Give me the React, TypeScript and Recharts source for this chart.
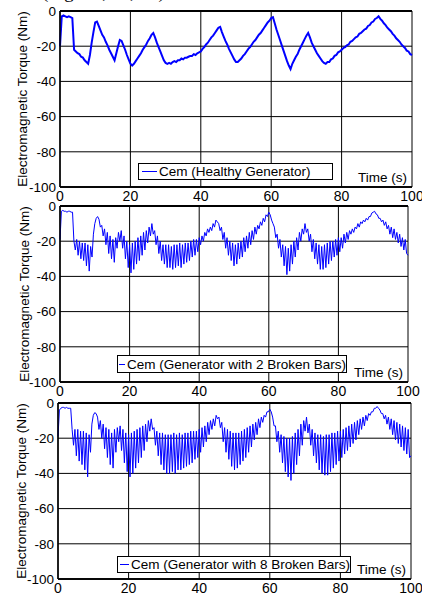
import {
  CartesianGrid,
  Legend,
  Line,
  LineChart,
  ReferenceLine,
  XAxis,
  YAxis,
} from "recharts";

const FONT = "'Liberation Sans', Arial, Helvetica, sans-serif";
const BLUE = "#0000ff";

const xTicks = [0, 20, 40, 60, 80, 100];
const yTicks = [-100, -80, -60, -40, -20, 0];

// healthy machine, sampled every 0.5 s (one row = 5 s)
const healthyStep = 0.5;
const healthyTorque = [
  -20, -3, -2.5, -3, -3.5, -3, -3.5, -4, -22, -23,
  -24, -24.5, -26, -26.5, -28, -29, -30, -25, -18, -12,
  -6.5, -6, -8.5, -11, -13.5, -15, -17.5, -19.5, -22, -24,
  -26, -28, -24, -20, -16.5, -17, -19.5, -22, -25, -27.5,
  -30, -31, -30, -28.5, -27, -25.5, -24, -22, -20.5, -19,
  -17, -15.5, -13.5, -12.5, -15, -18, -20.5, -23, -25.5, -28,
  -29.5, -30, -29.5, -30, -29, -28.5, -29, -28, -28, -27,
  -27.5, -26.5, -26.5, -26, -25.5, -25.5, -24.5, -25, -24, -23.5,
  -23, -21.5, -20.5, -19, -18, -16.5, -15, -14, -12.5, -11,
  -9.5, -9, -12, -14.5, -17, -19, -21.5, -23.5, -25.5, -27.5,
  -29, -29, -28, -27, -25.5, -24.5, -23, -21.5, -20.5, -19,
  -17.5, -16.5, -15, -13.5, -12.5, -11, -9.5, -8, -6.5, -5.5,
  -4, -3.5, -7, -10.5, -13.5, -16.5, -19.5, -22.5, -25.5, -28.5,
  -31, -33, -30, -28, -26, -24.5, -22, -20, -18, -16,
  -14, -12.5, -15, -18, -20, -22, -24, -25.5, -27, -28.5,
  -29.5, -30, -29, -29, -27.5, -27, -25.5, -25, -23.5, -23,
  -22, -21, -20.5, -19.5, -19, -17.5, -17, -16, -15, -14.5,
  -13, -12.5, -11.5, -10.5, -10, -8.5, -8, -6.5, -6, -4.5,
  -4, -3, -4.5, -5.5, -7, -8, -9.5, -10.5, -11.5, -13,
  -14, -15.5, -16.5, -17.5, -19, -20, -21, -22.5, -23, -24.5,
  -25,
];

// faulty machines, sampled every 0.4 s (one row = 4 s)
const faultStep = 0.4;
const twoBarsTorque = [
  -19, -3, -2.5, -3, -3, -3.5, -3, -3, -3.5, -3.5,
  -20, -25, -19, -28, -20, -30, -21, -31, -21, -34,
  -22, -37, -23, -29, -16, -10, -7, -6, -7.5, -12,
  -11, -17, -13, -22, -15, -27, -17, -30, -19, -32,
  -18, -24, -15, -20, -14, -24, -17, -30, -20, -35,
  -22, -38, -21, -36, -20, -33, -18, -31, -17, -28,
  -15, -25, -14, -21, -12, -17, -10, -16, -14, -22,
  -17, -27, -20, -31, -22, -33, -22, -35, -22, -35,
  -23, -36, -22, -35, -22, -34, -21, -35, -22, -33,
  -21, -32, -21, -31, -20, -29, -19, -28, -19, -26,
  -18, -22, -17, -20, -15, -17, -13, -15, -12, -14,
  -10, -12, -8, -9, -10, -14, -12, -19, -15, -24,
  -18, -28, -20, -31, -21, -34, -22, -33, -21, -30,
  -20, -29, -18, -26, -17, -24, -15, -22, -14, -19,
  -12, -16, -11, -13, -9, -11, -7, -9, -5, -6,
  -3.5, -5, -8, -10, -12, -18, -16, -24, -19, -29,
  -22, -34, -23, -39, -24, -37, -22, -33, -20, -29,
  -18, -25, -15, -20, -13, -16, -10, -15, -13, -20,
  -16, -26, -19, -30, -21, -33, -22, -36, -23, -36,
  -22, -35, -21, -33, -20, -31, -20, -29, -19, -28,
  -18, -26, -18, -24, -16, -21, -15, -19, -14, -16,
  -13, -15, -12, -13, -10, -12, -9, -10, -8, -9,
  -7, -8, -6, -6, -4, -3.5, -3, -4.5, -5, -7,
  -7, -9, -8, -11, -9, -13, -11, -16, -12, -18,
  -13, -19, -15, -21, -16, -23, -18, -25, -19, -27,
  -28,
];

const eightBarsTorque = [
  -19, -4, -3, -2.5, -2.5, -3, -2.5, -3, -3, -3,
  -15, -24, -15, -30, -15, -33, -16, -35, -16, -38,
  -17, -42, -18, -28, -12, -7, -5.5, -6, -8, -15,
  -10, -20, -12, -26, -14, -31, -15, -35, -17, -37,
  -15, -28, -14, -22, -13, -27, -15, -34, -17, -39,
  -18, -42, -17, -40, -16, -37, -15, -34, -14, -31,
  -13, -27, -12, -22, -10, -16, -9, -15, -14, -24,
  -16, -30, -17, -35, -17, -38, -18, -40, -18, -40,
  -18, -39, -17, -40, -18, -38, -17, -38, -18, -37,
  -17, -36, -17, -35, -16, -34, -16, -32, -16, -31,
  -15, -28, -14, -25, -13, -22, -11, -18, -10, -15,
  -9, -13, -7, -9, -8, -14, -11, -22, -14, -28,
  -15, -32, -16, -36, -17, -38, -17, -37, -17, -35,
  -16, -33, -15, -31, -14, -28, -13, -25, -12, -21,
  -11, -18, -9, -14, -8, -11, -7, -8, -5, -5,
  -3.5, -5, -8, -13, -13, -22, -16, -28, -18, -34,
  -19, -39, -20, -42, -20, -44, -19, -40, -17, -35,
  -15, -30, -12, -24, -10, -16, -8, -17, -12, -24,
  -15, -30, -17, -34, -18, -38, -18, -40, -19, -41,
  -18, -41, -18, -39, -17, -37, -17, -35, -16, -33,
  -16, -31, -15, -29, -14, -27, -13, -25, -12, -23,
  -11, -21, -10, -18, -9, -15, -8, -13, -7, -10,
  -6, -7, -5, -5, -3, -3, -2, -3, -4, -6,
  -6, -9, -7, -12, -8, -15, -9, -18, -10, -21,
  -11, -23, -12, -25, -13, -27, -14, -29, -15, -31,
  -30,
];

const seriesNames = [
  "Cem (Healthy Generator)",
  "Cem (Generator with 2 Broken Bars)",
  "Cem (Generator with 8 Broken Bars)",
];

function toRows(values: number[], step: number) {
  return values.map((v, i) => ({ t: Math.round(i * step * 100) / 100, v }));
}

type PanelProps = {
  data: { t: number; v: number }[];
  name: string;
  top: number;
  height: number;
  yAxisWidth: number;
  right: number;
  xAxisHeight: number;
  labelX: number;
  legend: { left: number; top: number; width: number; height: number; pad: number };
  strokeWidth: number;
};

function Panel({ data, name, top, height, yAxisWidth, right, xAxisHeight, labelX, legend, strokeWidth }: PanelProps) {
  return (
    <div style={{ position: "absolute", left: 0, top }}>
      <LineChart
        width={422}
        height={height}
        data={data}
        margin={{ top: 11, right, bottom: 0, left: 0 }}
      >
        <CartesianGrid stroke="#000" strokeWidth={1} />
        <XAxis
          dataKey="t"
          type="number"
          domain={[0, 100]}
          ticks={xTicks}
          interval={0}
          height={xAxisHeight}
          tickSize={0}
          tickMargin={4}
          axisLine={{ stroke: "#000", strokeWidth: 1.5 }}
          tick={{ fill: "#000", fontSize: 14, fontFamily: FONT }}
        />
        <YAxis
          type="number"
          domain={[-100, 0]}
          ticks={yTicks}
          interval={0}
          width={yAxisWidth}
          tickSize={0}
          tickMargin={4}
          axisLine={{ stroke: "#000", strokeWidth: 1.5 }}
          tick={{ fill: "#000", fontSize: 13.5, fontFamily: FONT }}
          label={{
            value: "Electromagnetic Torque (Nm)",
            angle: -90,
            position: "insideLeft",
            offset: labelX,
            style: { textAnchor: "middle", fill: "#000", fontSize: 13.5, fontFamily: FONT },
          }}
        />
        <ReferenceLine y={0} stroke="#000" strokeWidth={2} />
        <ReferenceLine
          y={-100}
          stroke="#000"
          strokeWidth={1.5}
          label={{
            value: "Time (s)",
            position: "insideBottomRight",
            offset: 5,
            style: { fill: "#000", fontSize: 13.5, fontFamily: FONT },
          }}
        />
        <Legend
          layout="horizontal"
          verticalAlign="middle"
          align="center"
          wrapperStyle={{ left: legend.left, top: legend.top, width: "auto", height: "auto" }}
          content={(p: any) => {
            const item = p.payload?.[0];
            if (!item) return null;
            return (
              <div
                style={{
                  boxSizing: "border-box",
                  width: legend.width,
                  height: legend.height,
                  border: "1.5px solid #000",
                  background: "#fff",
                  display: "flex",
                  alignItems: "center",
                  paddingLeft: legend.pad,
                  fontFamily: FONT,
                  fontSize: 13.5,
                  color: "#000",
                  whiteSpace: "nowrap",
                }}
              >
                <span
                  style={{
                    display: "inline-block",
                    width: 15,
                    borderTop: `1.5px solid ${BLUE}`,
                    marginRight: 2,
                  }}
                />
                {item.value}
              </div>
            );
          }}
        />
        <Line
          type="linear"
          dataKey="v"
          name={name}
          stroke={BLUE}
          strokeWidth={strokeWidth}
          dot={false}
          activeDot={false}
          isAnimationActive={false}
        />
      </LineChart>
    </div>
  );
}

export default function App() {
  return (
    <div
      style={{
        position: "absolute",
        left: 0,
        top: 0,
        width: 422,
        height: 596,
        background: "#fff",
        overflow: "hidden",
      }}
    >
      <div
        style={{
          position: "absolute",
          left: 42,
          top: -19,
          fontFamily: "'Liberation Serif', 'Times New Roman', serif",
          fontSize: 19,
          whiteSpace: "nowrap",
          color: "#000",
        }}
      >
        (Fig. 10, 11, 12)
      </div>
      <Panel
        data={toRows(healthyTorque, healthyStep)}
        name={seriesNames[0]}
        top={0}
        height={203}
        yAxisWidth={60}
        right={10}
        xAxisHeight={16}
        labelX={22}
        legend={{ left: 138, top: 163, width: 195, height: 17, pad: 3 }}
        strokeWidth={2}
      />
      <Panel
        data={toRows(twoBarsTorque, faultStep)}
        name={seriesNames[1]}
        top={195}
        height={203}
        yAxisWidth={60}
        right={14}
        xAxisHeight={16}
        labelX={24}
        legend={{ left: 117, top: 160, width: 230, height: 18, pad: 1 }}
        strokeWidth={1}
      />
      <Panel
        data={toRows(eightBarsTorque, faultStep)}
        name={seriesNames[2]}
        top={392}
        height={204}
        yAxisWidth={58}
        right={11}
        xAxisHeight={17}
        labelX={21}
        legend={{ left: 117, top: 164, width: 234, height: 17, pad: 2 }}
        strokeWidth={1}
      />
    </div>
  );
}
